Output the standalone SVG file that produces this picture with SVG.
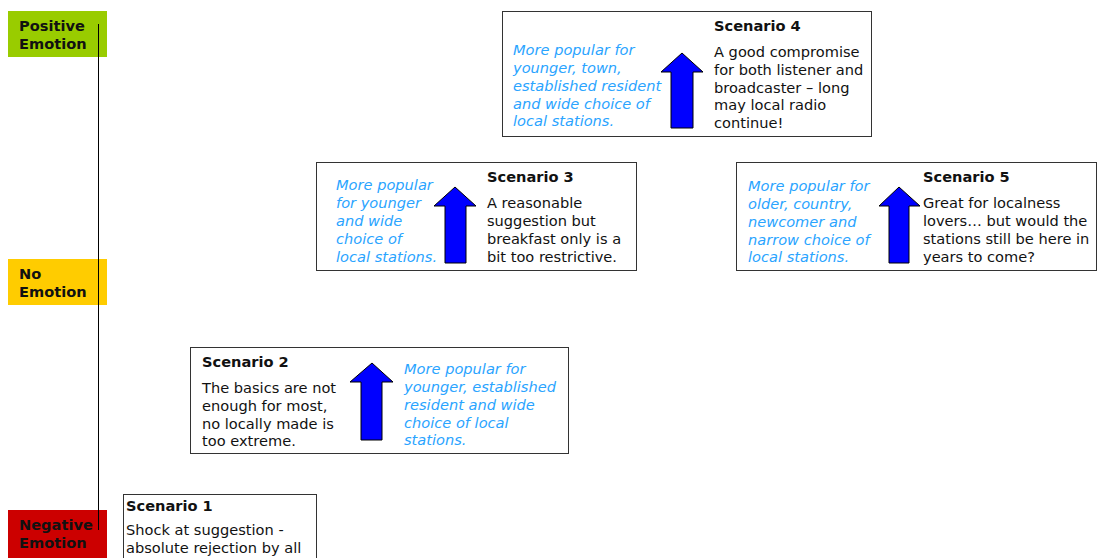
<svg xmlns="http://www.w3.org/2000/svg" width="1097" height="558" viewBox="0 0 1097 558">
<style>
text{font-family:"DejaVu Sans",Verdana,sans-serif;font-size:14.6px;fill:#111}
.b{font-weight:bold}
.i{font-style:italic;fill:#2aa4ff}
.box{fill:#fff;stroke:#333;stroke-width:1}
.arr{fill:#0000ff;stroke:#000;stroke-width:1}
</style>
<rect width="1097" height="558" fill="#fff"/>
<g id="axis">
<line x1="98.5" y1="24" x2="98.5" y2="530" stroke="#000" stroke-width="1"/>
</g>
<g id="positive">
<rect x="8" y="11" width="99" height="46" fill="#99cc00"/>
<text class="b" x="19" y="31">Positive</text>
<text class="b" x="19" y="49">Emotion</text>
<line x1="98.5" y1="24" x2="98.5" y2="57" stroke="#000"/>
</g>
<g id="none">
<rect x="8" y="259" width="99" height="46" fill="#ffcc00"/>
<text class="b" x="19" y="279">No</text>
<text class="b" x="19" y="297">Emotion</text>
<line x1="98.5" y1="259" x2="98.5" y2="305" stroke="#000"/>
</g>
<g id="negative">
<rect x="8" y="510" width="99" height="48" fill="#cc0000"/>
<text class="b" x="19" y="530">Negative</text>
<text class="b" x="19" y="548">Emotion</text>
<line x1="98.5" y1="510" x2="98.5" y2="530" stroke="#000"/>
</g>
<g id="scenario1">
<rect class="box" x="123.5" y="494.5" width="193" height="70"/>
<text class="b" x="126" y="511">Scenario 1</text>
<text x="126" y="535">Shock at suggestion -</text>
<text x="126" y="553">absolute rejection by all</text>
</g>
<g id="scenario2">
<rect class="box" x="190.5" y="347.5" width="378" height="106"/>
<text class="b" x="202" y="367">Scenario 2</text>
<text x="202" y="393">The basics are not</text>
<text x="202" y="411">enough for most,</text>
<text x="202" y="429">no locally made is</text>
<text x="202" y="446">too extreme.</text>
<text class="i" x="404" y="374">More popular for</text>
<text class="i" x="404" y="392">younger, established</text>
<text class="i" x="404" y="410">resident and wide</text>
<text class="i" x="404" y="428">choice of local</text>
<text class="i" x="404" y="445">stations.</text>
<polygon class="arr" points="372,363 393,382 382,382 382,440 361,440 361,382 350,382"/>
</g>
<g id="scenario3">
<rect class="box" x="316.5" y="162.5" width="320" height="108"/>
<text class="b" x="487" y="182">Scenario 3</text>
<text x="487" y="208">A reasonable</text>
<text x="487" y="226">suggestion but</text>
<text x="487" y="244">breakfast only is a</text>
<text x="487" y="262">bit too restrictive.</text>
<text class="i" x="336" y="190">More popular</text>
<text class="i" x="336" y="208">for younger</text>
<text class="i" x="336" y="226">and wide</text>
<text class="i" x="336" y="244">choice of</text>
<text class="i" x="336" y="262">local stations.</text>
<polygon class="arr" points="455,187 476,206 466,206 466,263 445,263 445,206 434,206"/>
</g>
<g id="scenario4">
<rect class="box" x="502.5" y="11.5" width="369" height="125"/>
<text class="b" x="714" y="31">Scenario 4</text>
<text x="714" y="57">A good compromise</text>
<text x="714" y="75">for both listener and</text>
<text x="714" y="93">broadcaster – long</text>
<text x="714" y="110">may local radio</text>
<text x="714" y="128">continue!</text>
<text class="i" x="513" y="55">More popular for</text>
<text class="i" x="513" y="73">younger, town,</text>
<text class="i" x="513" y="91">established resident</text>
<text class="i" x="513" y="109">and wide choice of</text>
<text class="i" x="513" y="126">local stations.</text>
<polygon class="arr" points="682,53 703,72 693,72 693,128 671,128 671,72 661,72"/>
</g>
<g id="scenario5">
<rect class="box" x="736.5" y="162.5" width="360" height="108"/>
<text class="b" x="923" y="182">Scenario 5</text>
<text x="923" y="208">Great for localness</text>
<text x="923" y="226">lovers… but would the</text>
<text x="923" y="244">stations still be here in</text>
<text x="923" y="262">years to come?</text>
<text class="i" x="748" y="191">More popular for</text>
<text class="i" x="748" y="209">older, country,</text>
<text class="i" x="748" y="227">newcomer and</text>
<text class="i" x="748" y="245">narrow choice of</text>
<text class="i" x="748" y="262">local stations.</text>
<polygon class="arr" points="899,187 920,206 909,206 909,263 889,263 889,206 879,206"/>
</g>
</svg>
